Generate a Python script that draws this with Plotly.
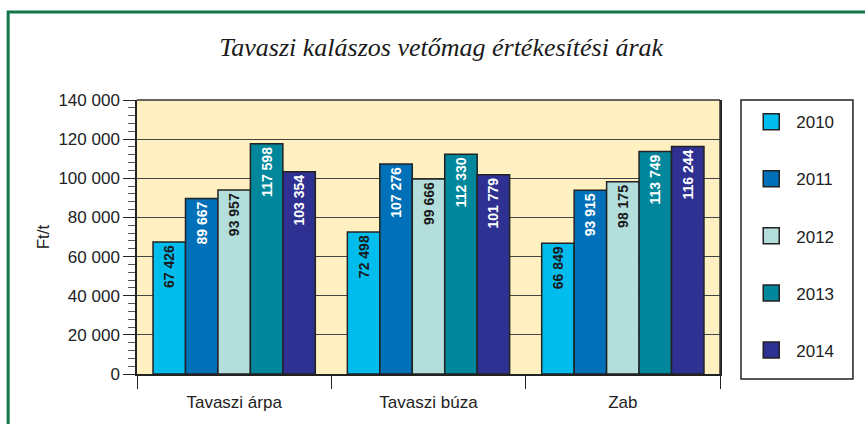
import plotly.graph_objects as go

categories = ["Tavaszi árpa", "Tavaszi búza", "Zab"]
years = ["2010", "2011", "2012", "2013", "2014"]
values_2010 = [67426, 72498, 66849]
values_2011 = [89667, 107276, 93915]
values_2012 = [93957, 99666, 98175]
values_2013 = [117598, 112330, 113749]
values_2014 = [103354, 101779, 116244]
series = [values_2010, values_2011, values_2012, values_2013, values_2014]
colors = ["#00BDEE", "#0070B8", "#B3DEDB", "#00879B", "#2E3192"]
label_colors = ["#1a1a1a", "white", "#1a1a1a", "white", "white"]
tick_vals = [0, 20000, 40000, 60000, 80000, 100000, 120000, 140000]
tick_text = ["0", "20 000", "40 000", "60 000", "80 000", "100 000", "120 000", "140 000"]


def fmt(v):
    return f"{v:,}".replace(",", " ")


fig = go.Figure()
for i, (yr, vals) in enumerate(zip(years, series)):
    fig.add_trace(go.Bar(
        x=categories, y=vals, name=yr,
        marker=dict(color=colors[i], line=dict(color="#222222", width=1.5)),
        text=[f"<b>{fmt(v)}</b>" for v in vals], textposition="inside", textangle=-90,
        insidetextanchor="end",
        textfont=dict(family="Liberation Sans, Arial", size=14, color=label_colors[i]),
        showlegend=False, cliponaxis=False, hoverinfo="skip",
    ))
    fig.add_trace(go.Scatter(
        x=[None], y=[None], mode="markers", name=yr,
        marker=dict(symbol="square", size=18, color=colors[i],
                    line=dict(color="#222222", width=1.5)),
        legendgroup=yr, showlegend=True, hoverinfo="skip",
    ))

fig.update_layout(
    width=865, height=424,
    margin=dict(l=137, r=145, t=100, b=50, autoexpand=False),
    paper_bgcolor="white", plot_bgcolor="#FFF0C2",
    barmode="group", bargap=0.165, bargroupgap=0,
    title=dict(text="<i>Tavaszi kalászos vetőmag értékesítési árak</i>",
               x=0.51, xanchor="center", y=0.89, yanchor="middle",
               font=dict(family="Liberation Serif, serif", size=26, color="#1a1a1a")),
    font=dict(family="Liberation Sans, Arial", size=17, color="#222222"),
    legend=dict(x=1.045, xanchor="left", y=0.985, yanchor="top",
                borderwidth=0, bgcolor="rgba(0,0,0,0)",
                traceorder="grouped", tracegroupgap=32,
                font=dict(size=17, color="#222222"),
                itemwidth=40),
    xaxis=dict(showline=True, linecolor="#222222", linewidth=1.5, mirror=False,
               ticks="outside", tickson="boundaries", ticklen=13, tickcolor="#222222",
               tickfont=dict(size=17), showgrid=False, automargin=False,
               ticklabelstandoff=12),
    yaxis=dict(range=[0, 140000], tickvals=tick_vals, ticktext=tick_text,
               showline=True, linecolor="#222222", linewidth=1.5, mirror=True,
               ticks="outside", ticklen=12, tickcolor="#222222",
               showgrid=True, gridcolor="#444444", gridwidth=1,
               tickfont=dict(size=17), automargin=False,
               minor=dict(dtick=4000, ticks="outside", ticklen=7, tickcolor="#555555", showgrid=False),
               title=dict(text="Ft/t", font=dict(size=17), standoff=4),
               zeroline=False),
    shapes=[
        dict(type="line", xref="paper", yref="paper", x0=0, x1=1, y0=1, y1=1,
             line=dict(color="#333333", width=1.5)),
        dict(type="line", xref="paper", yref="paper", x0=1, x1=1, y0=0, y1=1,
             line=dict(color="#333333", width=1.5)),
        dict(type="rect", xref="paper", yref="paper", x0=1.036, x1=1.228, y0=-0.018, y1=1.0,
             line=dict(color="#222222", width=1.5), fillcolor="rgba(0,0,0,0)"),
        dict(type="path", xref="paper", yref="paper",
             path="M -0.221,-0.3 L -0.221,1.321 L 1.3,1.321",
             line=dict(color="#11774A", width=3)),
    ],
)

fig.write_html("out.html", config={"displayModeBar": False},
               post_script="document.body.style.margin='0';document.body.style.overflow='hidden';")
